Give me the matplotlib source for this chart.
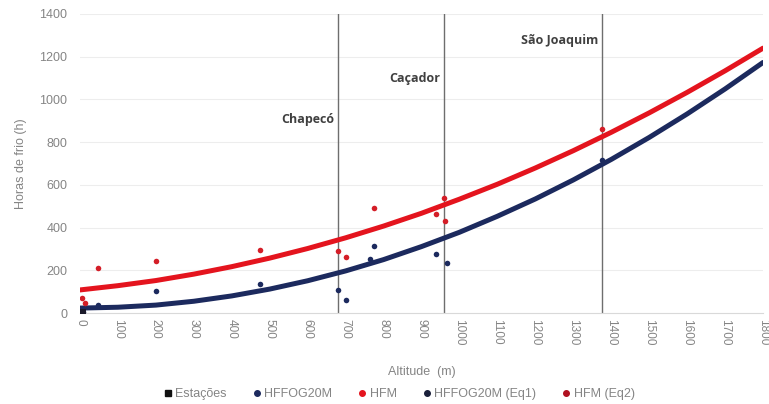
import matplotlib
matplotlib.use("Agg")
import matplotlib.pyplot as plt
from matplotlib.lines import Line2D

# ---- data ----
alt_hffog = [3, 8, 48, 200, 475, 679, 701, 765, 776, 937, 966, 1377]
val_hffog = [18, 6, 37, 105, 136, 108, 61, 251, 314, 276, 236, 716]

alt_hfm = [4, 13, 48, 200, 475, 679, 701, 776, 937, 960, 963, 1377]
val_hfm = [70, 47, 209, 245, 295, 290, 264, 490, 463, 537, 431, 860]

alt_est = [5]
val_est = [2]

curve_alt = [0, 100, 200, 300, 400, 500, 600, 700, 800, 900, 1000,
             1100, 1200, 1300, 1400, 1500, 1600, 1700, 1800]
curve_eq1 = [23, 27, 37, 55, 80, 112, 151, 197, 250, 311, 378,
             453, 534, 623, 719, 822, 932, 1049, 1173]
curve_eq2 = [108, 128, 152, 182, 217, 257, 302, 352, 407, 467, 533,
             603, 679, 760, 846, 937, 1033, 1134, 1240]

stations = ["Chapecó", "Caçador", "São Joaquim"]
station_alt = [680, 960, 1377]
station_label_y = [904, 1100, 1278]

xticks = list(range(0, 1801, 100))
yticks = list(range(0, 1401, 200))

navy = "#1c2a5e"
red = "#e4141e"
gray_txt = "#858585"

plt.rcParams['font.family'] = ['Liberation Sans', 'DejaVu Sans']

fig = plt.figure(figsize=(7.69, 4.04), dpi=100)
ax = fig.add_axes([80 / 769, 1 - 313 / 404, 683 / 769, 299 / 404])

ax.set_xlim(0, 1800)
ax.set_ylim(0, 1400)

for y in yticks[1:]:
    ax.axhline(y, color="#ededed", lw=0.8, zorder=0)

for a in station_alt:
    ax.axvline(a, color="#6e6e6e", lw=1.0, zorder=1)
for name, a, yy in zip(stations, station_alt, station_label_y):
    ax.text(a - 10, yy, name, ha="right", va="center", fontsize=9,
            fontweight="bold", color="#404040", zorder=5,
            family=['Open Sans', 'DejaVu Sans'])

ax.plot(curve_alt, curve_eq2, color=red, lw=3.6, solid_capstyle="round", zorder=3)
ax.plot(curve_alt, curve_eq1, color=navy, lw=3.6, solid_capstyle="round", zorder=3)

ax.scatter(alt_hffog, val_hffog, s=16, color=navy, zorder=4, linewidths=0)
ax.scatter(alt_hfm, val_hfm, s=16, color="#d41e28", zorder=4, linewidths=0)
ax.scatter(alt_est, val_est, s=30, marker="s", color="#1a1a2a", zorder=4, linewidths=0)

ax.set_xticks(xticks)
ax.set_xticklabels([str(v) for v in xticks], rotation=270, fontsize=8.5, color=gray_txt)
ax.set_yticks(yticks)
ax.set_yticklabels([str(v) for v in yticks], fontsize=9, color=gray_txt)
ax.tick_params(axis="x", length=0, pad=4)
ax.tick_params(axis="y", length=0, pad=9)

for s in ["top", "right", "left"]:
    ax.spines[s].set_visible(False)
ax.spines["bottom"].set_color("#d9d9d9")
ax.spines["bottom"].set_linewidth(0.8)

ax.set_xlabel("Altitude  (m)", fontsize=9, color=gray_txt, labelpad=15)
ax.set_ylabel("Horas de frio (h)", fontsize=9, color=gray_txt, labelpad=9)

handles = [
    Line2D([], [], marker="s", ls="", color="#111111", markersize=5),
    Line2D([], [], marker="o", ls="", color=navy, markersize=4),
    Line2D([], [], marker="o", ls="", color=red, markersize=4),
    Line2D([], [], marker="o", ls="", color="#1a1f3a", markersize=4),
    Line2D([], [], marker="o", ls="", color="#b01020", markersize=4),
]
labels = ["Estações", "HFFOG20M", "HFM", "HFFOG20M (Eq1)", "HFM (Eq2)"]
leg = fig.legend(handles, labels, loc="center", bbox_to_anchor=(398 / 769, 1 - 394 / 404),
                 ncol=5, frameon=False, fontsize=9, handletextpad=0.1,
                 columnspacing=1.9, handlelength=1.0)
for t in leg.get_texts():
    t.set_color(gray_txt)

fig.savefig("out.png", dpi=100)
